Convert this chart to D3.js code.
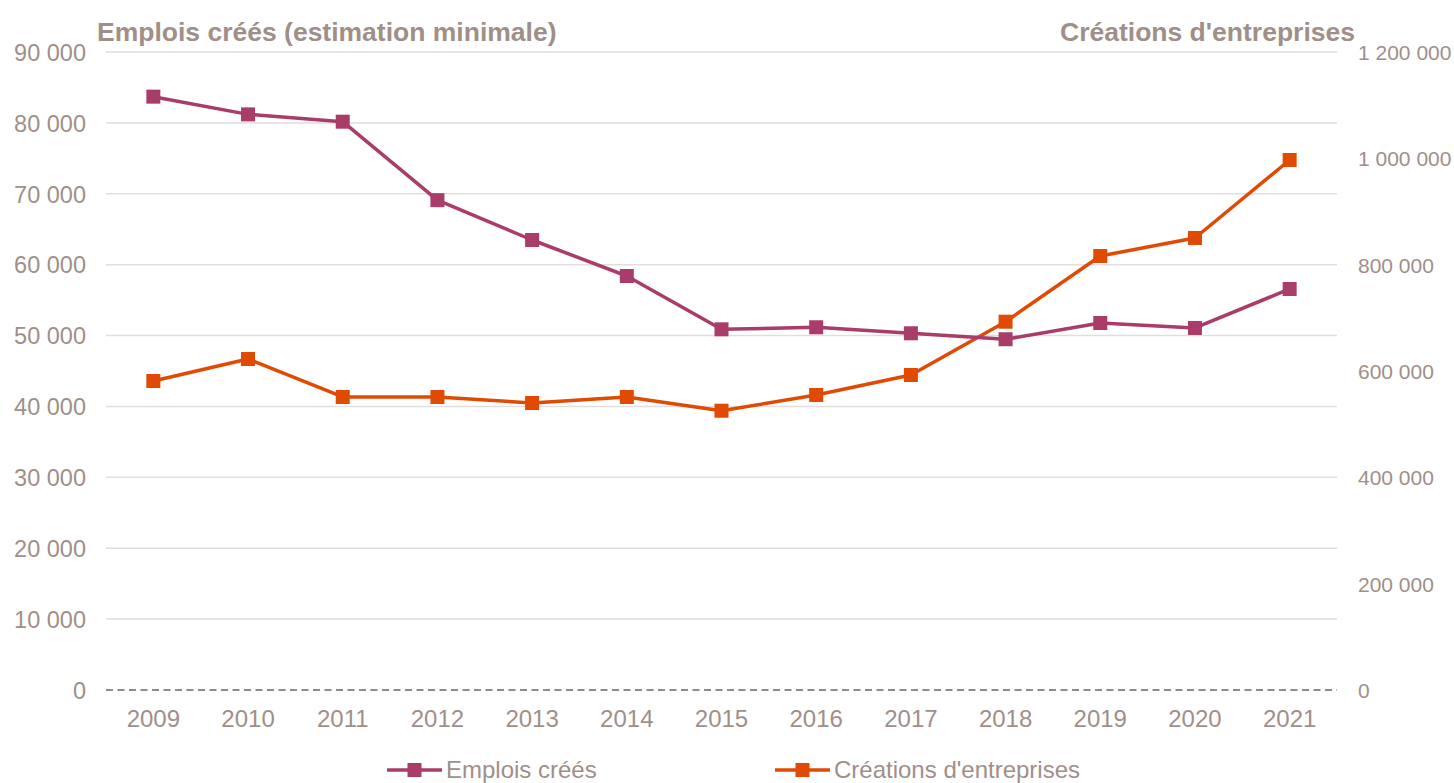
<!DOCTYPE html>
<html><head><meta charset="utf-8">
<script src="https://cdn.jsdelivr.net/npm/d3@7"></script>
<style>body{margin:0;background:#fff;}svg{display:block;font-family:"Liberation Sans",Arial,sans-serif;}</style>
</head><body><svg id="c" width="1454" height="783"></svg>
<script>
const years = ["2009","2010","2011","2012","2013","2014","2015","2016","2017","2018","2019","2020","2021"];
const emplois = [83700,81200,80170,69100,63480,58400,50880,51170,50320,49480,51770,51070,56570];
const creations = [581200,622600,551100,551100,539800,551100,525300,554900,592500,692700,816300,850200,996900];
const leftTicks = [0,10000,20000,30000,40000,50000,60000,70000,80000,90000];
const rightTicks = [0,200000,400000,600000,800000,1000000,1200000];
const seriesNames = ["Emplois créés","Créations d'entreprises"];
const titleLeft = "Emplois créés (estimation minimale)";
const titleRight = "Créations d'entreprises";

const colE = "#A93C69", colC = "#E04A02", txt = "#A08F89";
const svg = d3.select("#c");
const x = d3.scaleBand().domain(years).range([106,1337]);
const yL = d3.scaleLinear().domain([0,90000]).range([690,52]);
const yR = d3.scaleLinear().domain([0,1200000]).range([690,52]);
const fmt = v => d3.format(",")(v).replace(/,/g," ");

// gridlines
svg.append("g").selectAll("line").data(leftTicks.filter(d=>d>0)).join("line")
  .attr("x1",106).attr("x2",1337).attr("y1",d=>yL(d)).attr("y2",d=>yL(d))
  .attr("stroke","#E3DDDD").attr("stroke-width",1.5);
// baseline dashed
svg.append("line").attr("x1",106).attr("x2",1337).attr("y1",yL(0)).attr("y2",yL(0))
  .attr("stroke","#6E6262").attr("stroke-width",1.5).attr("stroke-dasharray","7,4.5");

// left axis
const gL = svg.append("g").attr("transform","translate(86,0)")
  .call(d3.axisLeft(yL).tickValues(leftTicks).tickFormat(fmt).tickSize(0).tickPadding(0));
gL.select(".domain").remove();
gL.selectAll("text").attr("fill",txt).style("font-size","23.5px").attr("dy","0.35em");
// right axis
const gR = svg.append("g").attr("transform","translate(1358,0)")
  .call(d3.axisRight(yR).tickValues(rightTicks).tickFormat(fmt).tickSize(0).tickPadding(0));
gR.select(".domain").remove();
gR.selectAll("text").attr("fill",txt).style("font-size","21px").attr("dy","0.35em");
// x axis
const gX = svg.append("g").attr("transform","translate(0,710)")
  .call(d3.axisBottom(x).tickSize(0).tickPadding(0));
gX.select(".domain").remove();
gX.selectAll("text").attr("fill",txt).style("font-size","24px").attr("dy","0.71em");

// titles
svg.append("text").attr("x",97).attr("y",41).attr("fill",txt).attr("font-weight","bold")
  .style("font-size","26.5px").text(titleLeft);
svg.append("text").attr("x",1355).attr("y",41).attr("text-anchor","end").attr("fill",txt).attr("font-weight","bold")
  .style("font-size","26.5px").text(titleRight);

function series(vals, y, col){
  const g = svg.append("g");
  const line = d3.line().x((d,i)=>x(years[i])+x.bandwidth()/2).y(d=>y(d));
  g.append("path").datum(vals).attr("d",line).attr("fill","none").attr("stroke",col)
    .attr("stroke-width",3.5).attr("stroke-linejoin","round");
  g.selectAll("rect").data(vals).join("rect")
    .attr("x",(d,i)=>x(years[i])+x.bandwidth()/2-7).attr("y",d=>y(d)-7)
    .attr("width",14).attr("height",14).attr("fill",col);
}
series(creations, yR, colC);
series(emplois, yL, colE);

// legend
const leg = [{n:seriesNames[0],c:colE,x:387},{n:seriesNames[1],c:colC,x:775}];
const lg = svg.append("g").selectAll("g").data(leg).join("g").attr("transform",d=>`translate(${d.x},770)`);
lg.append("line").attr("x1",0).attr("x2",55).attr("stroke",d=>d.c).attr("stroke-width",3.5);
lg.append("rect").attr("x",20.5).attr("y",-7).attr("width",14).attr("height",14).attr("fill",d=>d.c);
lg.append("text").attr("x",59).attr("dy","0.35em").attr("fill",txt).style("font-size","24px").text(d=>d.n);
</script></body></html>
